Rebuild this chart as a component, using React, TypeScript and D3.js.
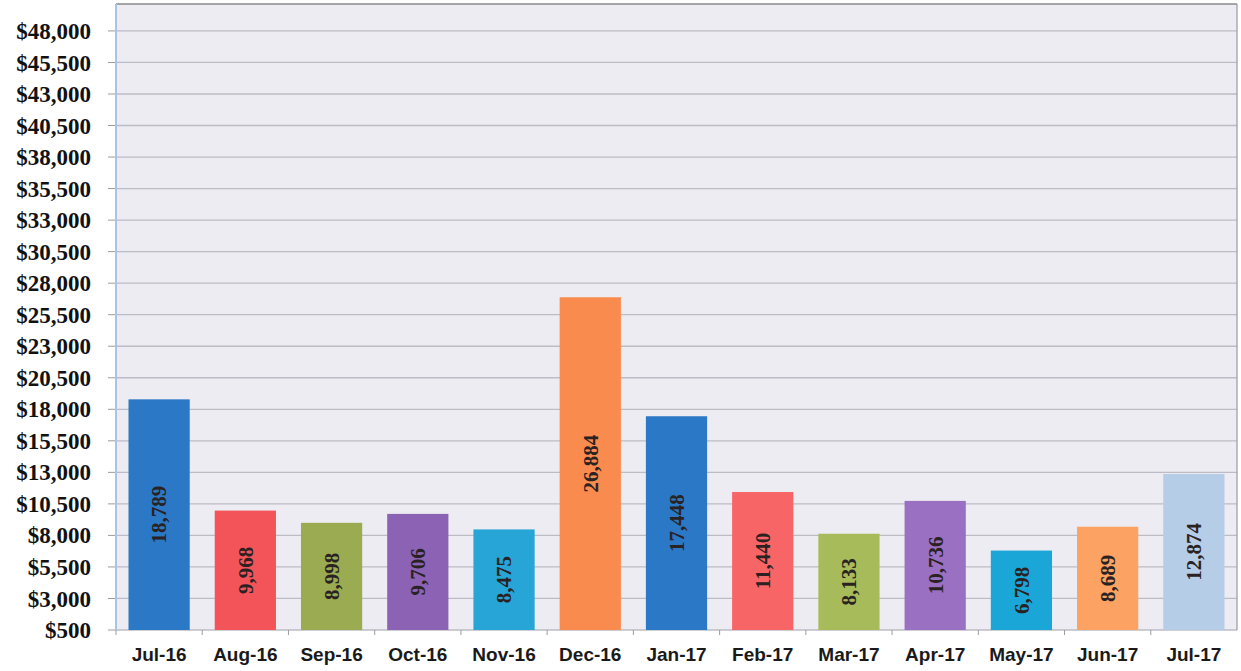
import React from "react";
import * as d3 from "d3";

const categories = ["Jul-16","Aug-16","Sep-16","Oct-16","Nov-16","Dec-16","Jan-17","Feb-17","Mar-17","Apr-17","May-17","Jun-17","Jul-17"];
const values = [18789, 9968, 8998, 9706, 8475, 26884, 17448, 11440, 8133, 10736, 6798, 8689, 12874];
const barColors = ["#2b78c6","#f2545a","#9aab52","#8c62b4","#27a5d7","#f98b4f","#2b78c6","#f76566","#a8bb5a","#9a70c2","#1ba6d8","#fca262","#b6cde8"];
const yTicks = [500,3000,5500,8000,10500,13000,15500,18000,20500,23000,25500,28000,30500,33000,35500,38000,40500,43000,45500,48000];

const W = 1241, H = 671;
const left = 116, right = 1237, top = 4, bottom = 630;

export default function App() {
  const x = d3.scaleBand<string>().domain(categories).range([left, right]).paddingInner(0.29).paddingOuter(0.145);
  const y = d3.scaleLinear().domain([500, 50000]).range([bottom, bottom - (49500 / 2500) * 31.53]);
  const fmt = d3.format(",");
  const step = x.step();
  return (
    <svg width={W} height={H} style={{ position: "absolute", left: 0, top: 0, background: "#fff" }}>
      <rect x={left} y={top} width={right - left} height={bottom - top} fill="#edecf2" />
      {yTicks.map((t) => (
        <g key={t}>
          <line x1={left} x2={right} y1={y(t)} y2={y(t)} stroke="#bdbcc6" strokeWidth={1.3} />
          <line x1={left - 8} x2={left} y1={y(t)} y2={y(t)} stroke="#9a9aa6" strokeWidth={1} />
          <text x={91} y={y(t)} dy="0.35em" textAnchor="end" fontFamily="'Liberation Serif', serif" fontWeight="bold" fontSize={23} fill="#111">
            {"$" + fmt(t)}
          </text>
        </g>
      ))}
      <line x1={left} x2={right} y1={top} y2={top} stroke="#8a8a8a" strokeWidth={1.5} />
      <line x1={right} x2={right} y1={top} y2={bottom} stroke="#9a9aa0" strokeWidth={1.2} />
      <line x1={left} x2={left} y1={top} y2={bottom} stroke="#a8c6e4" strokeWidth={2} />
      {categories.map((c, i) => (
        <line key={"xt" + c} x1={left + step * i} x2={left + step * i} y1={bottom} y2={bottom + 5} stroke="#9a9aa6" />
      ))}
      {categories.map((c, i) => {
        const bx = x(c)!;
        const by = y(values[i]);
        const bh = y(500) - by;
        const cx = bx + x.bandwidth() / 2;
        const cy = by + bh / 2;
        return (
          <g key={c}>
            <rect x={bx} y={by} width={x.bandwidth()} height={bh} fill={barColors[i]} />
            <text transform={`translate(${cx},${cy}) rotate(-90)`} textAnchor="middle" dy="0.35em" fontFamily="'Liberation Serif', serif" fontWeight="bold" fontSize={21} fill="#2a2222">
              {fmt(values[i])}
            </text>
            <text x={cx} y={661} textAnchor="middle" fontFamily="'Liberation Sans', Arial, sans-serif" fontWeight="bold" fontSize={19} fill="#1a1a1a">
              {c}
            </text>
          </g>
        );
      })}
    </svg>
  );
}
